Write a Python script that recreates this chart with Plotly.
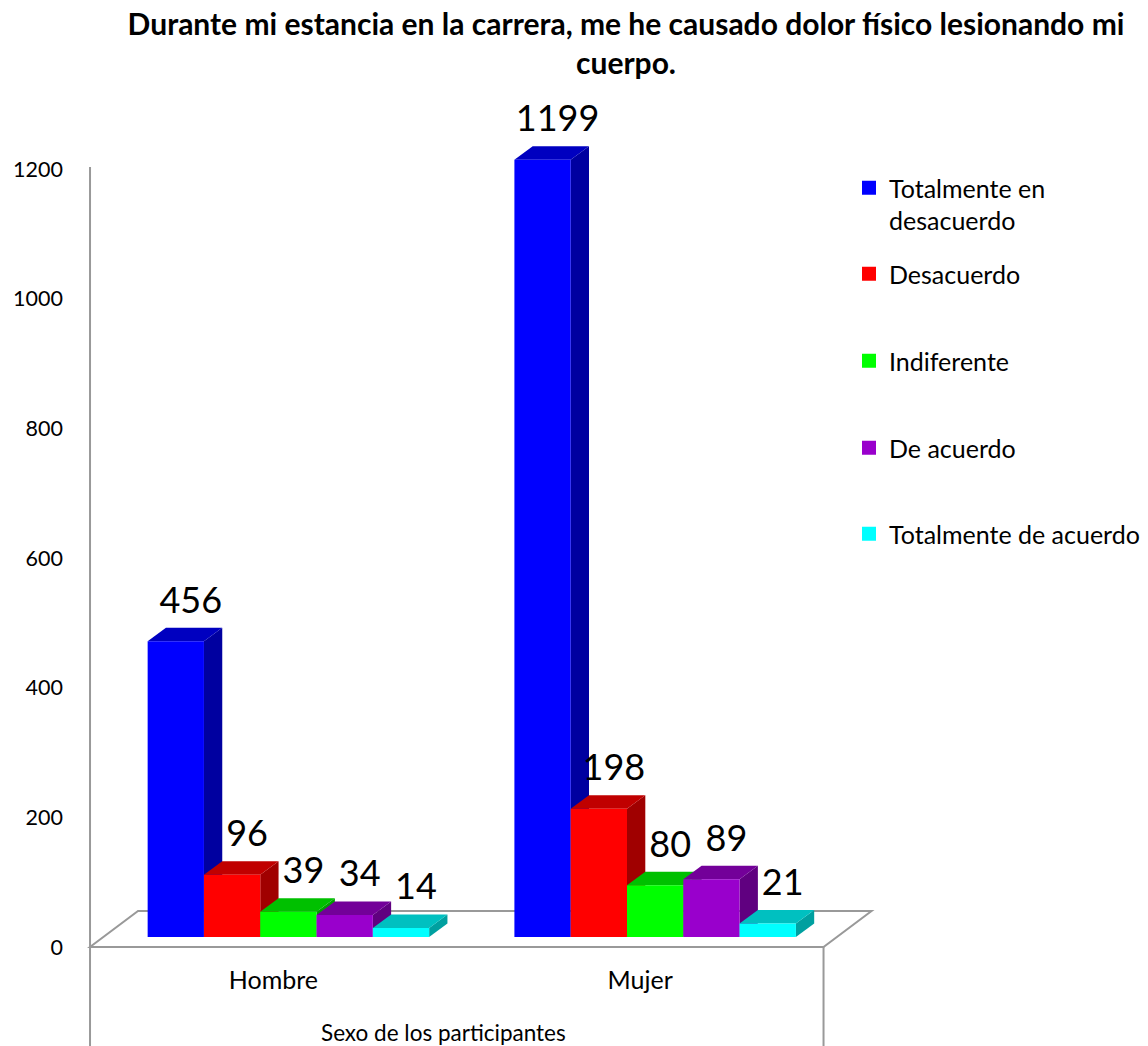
import plotly.graph_objects as go

# ---------------- data ----------------
categories = ["Hombre", "Mujer"]
series_names = ["Totalmente en desacuerdo", "Desacuerdo", "Indiferente",
                "De acuerdo", "Totalmente de acuerdo"]
legend_labels = ["Totalmente en<br>desacuerdo", "Desacuerdo", "Indiferente",
                 "De acuerdo", "Totalmente de acuerdo"]
totalmente_en_desacuerdo = [456, 1199]
desacuerdo = [96, 198]
indiferente = [39, 80]
de_acuerdo = [34, 89]
totalmente_de_acuerdo = [14, 21]
y_tick_values = [0, 200, 400, 600, 800, 1000, 1200]
title_text = ("Durante mi estancia en la carrera, me he causado dolor físico "
              "lesionando mi<br>cuerpo.")
x_axis_title = "Sexo de los participantes"

series_values = [totalmente_en_desacuerdo, desacuerdo, indiferente,
                 de_acuerdo, totalmente_de_acuerdo]

# ---------------- style ----------------
front_colors = ["#0000FF", "#FF0000", "#00FF00", "#9900CC", "#00FFFF"]
top_colors = ["#0000C0", "#C00000", "#00C000", "#730099", "#00C0C0"]
side_colors = ["#0000A0", "#A00000", "#00A000", "#600080", "#00A0A0"]
GRAY = "#999999"
FONT = "Lato"

W, H = 1148, 1046
PLOT_L, PLOT_R, PLOT_T, PLOT_B = 80, 880, 60, 1046
AXIS_TOP_PX = 167.0
Y0_PX = 947.0                      # pixel row of value 0
K_Y = (Y0_PX - 169.0) / 1200.0     # px per value unit
CAT_PX = 366.75                    # px per category
CAT0_PX = 273.4                    # pixel column of first category
AXIS_TITLE_PX = (443.0, 1032.0)    # centre of the category-axis title

y_range = [(Y0_PX - PLOT_B) / K_Y, (Y0_PX - PLOT_T) / K_Y]
x_range = [(PLOT_L - CAT0_PX) / CAT_PX, (PLOT_R - CAT0_PX) / CAT_PX]

def px_x(p):
    return p / CAT_PX

def px_y(p):
    return p / K_Y

FLOOR_DX, FLOOR_DY = px_x(48), px_y(36)
SHIFT_DX, SHIFT_DY = px_x(15), px_y(10)
BAR_DX, BAR_DY = px_x(18.3), px_y(13.5)
BAR_W = px_x(56.3)
LABEL_GAP = px_y(6)
LABEL_DX = px_x(15)

fig = go.Figure()

n_series = len(series_values)
label_x, label_y, label_t = [], [], []
for ci, cat in enumerate(categories):
    for si in range(n_series):
        v = series_values[si][ci]
        xl = ci + SHIFT_DX - n_series * BAR_W / 2 + si * BAR_W
        xr = xl + BAR_W
        b = SHIFT_DY
        t = b + v
        # side face
        fig.add_trace(go.Scatter(
            x=[xr, xr, xr + BAR_DX, xr + BAR_DX, xr],
            y=[b, t, t + BAR_DY, b + BAR_DY, b],
            mode="lines", fill="toself", fillcolor=side_colors[si],
            line=dict(width=0), showlegend=False, hoverinfo="skip"))
        # top face
        fig.add_trace(go.Scatter(
            x=[xl, xl + BAR_DX, xr + BAR_DX, xr, xl],
            y=[t, t + BAR_DY, t + BAR_DY, t, t],
            mode="lines", fill="toself", fillcolor=top_colors[si],
            line=dict(width=0), showlegend=False, hoverinfo="skip"))
        # front face
        fig.add_trace(go.Scatter(
            x=[xl, xl, xr, xr, xl],
            y=[b, t, t, b, b],
            mode="lines", fill="toself", fillcolor=front_colors[si],
            line=dict(width=0), showlegend=False,
            name=series_names[si],
            hovertemplate=f"{series_names[si]}<br>{cat}: {v}<extra></extra>"))
        label_x.append((xl + xr) / 2 + LABEL_DX)
        label_y.append(t + BAR_DY + LABEL_GAP)
        label_t.append(str(v))

fig.add_trace(go.Scatter(
    x=label_x, y=label_y, text=label_t, mode="text",
    textposition="top center",
    textfont=dict(family=FONT, size=36, color="#000000"),
    showlegend=False, hoverinfo="skip", cliponaxis=False))

# legend entries (one legend per item so positions can be matched)
legend_rows = [188, 274, 361, 448, 534]
legend_names = ["legend", "legend2", "legend3", "legend4", "legend5"]
for si in range(n_series):
    fig.add_trace(go.Scatter(
        x=[None], y=[None], mode="markers", name=legend_labels[si],
        marker=dict(symbol="square", size=14, color=front_colors[si]),
        legend=legend_names[si], showlegend=True))

legend_cfg = {}
for si, ln in enumerate(legend_names):
    legend_cfg[ln] = dict(
        x=849 / W, xref="container", xanchor="left",
        y=1 - (legend_rows[si] - 23) / H, yref="container", yanchor="top",
        valign="top", bgcolor="rgba(0,0,0,0)", borderwidth=0,
        font=dict(family=FONT, size=25, color="#000000"),
        itemclick=False, itemdoubleclick=False)

# floor, value axis line and category box
x0f, x1f = -0.5, len(categories) - 0.5
floor_path = (f"M {x0f},0 L {x1f},0 L {x1f + FLOOR_DX},{FLOOR_DY} "
              f"L {x0f + FLOOR_DX},{FLOOR_DY} Z")
shapes = [
    dict(type="path", path=floor_path, xref="x", yref="y",
         line=dict(color=GRAY, width=2), fillcolor="rgba(0,0,0,0)",
         layer="below"),
    dict(type="line", xref="x", yref="y", x0=x1f, x1=x1f, y0=0,
         y1=y_range[0], line=dict(color=GRAY, width=2), layer="below"),
    dict(type="line", xref="x", yref="y", x0=x0f, x1=x0f,
         y0=(Y0_PX - AXIS_TOP_PX) / K_Y, y1=y_range[0],
         line=dict(color=GRAY, width=2), layer="below"),
]

annotations = [
    dict(text=x_axis_title, xref="paper", yref="paper",
         x=(AXIS_TITLE_PX[0] - PLOT_L) / (PLOT_R - PLOT_L),
         y=(PLOT_B - AXIS_TITLE_PX[1]) / (PLOT_B - PLOT_T),
         xanchor="center", yanchor="middle", showarrow=False,
         font=dict(family=FONT, size=22.5, color="#000000")),
]

fig.update_layout(
    width=W, height=H, autosize=False,
    margin=dict(l=PLOT_L, r=W - PLOT_R, t=PLOT_T, b=H - PLOT_B, pad=0,
                autoexpand=False),
    paper_bgcolor="#FFFFFF", plot_bgcolor="#FFFFFF",
    title=dict(text=title_text, x=626 / W, xref="container", xanchor="center",
               y=1 - 35 / H, yref="container", yanchor="top",
               font=dict(family=FONT, size=30, color="#000000", weight="bold")),
    font=dict(family=FONT, color="#000000"),
    shapes=shapes,
    annotations=annotations,
    hovermode="closest",
    **legend_cfg,
)

fig.update_xaxes(
    range=x_range, type="linear", tickmode="array",
    tickvals=list(range(len(categories))), ticktext=categories,
    showgrid=False, zeroline=False, showline=False, ticks="",
    anchor="free", position=(PLOT_B - Y0_PX) / (PLOT_B - PLOT_T),
    ticklabelstandoff=16, automargin=False, fixedrange=True,
    tickfont=dict(family=FONT, size=25, color="#000000"))

fig.update_yaxes(
    range=y_range, tickmode="array", tickvals=y_tick_values,
    showgrid=False, zeroline=False, showline=False,
    ticks="", ticklabelstandoff=16, automargin=False,
    fixedrange=True,
    tickfont=dict(family=FONT, size=21.5, color="#000000"))

fig.write_html("out.html")
